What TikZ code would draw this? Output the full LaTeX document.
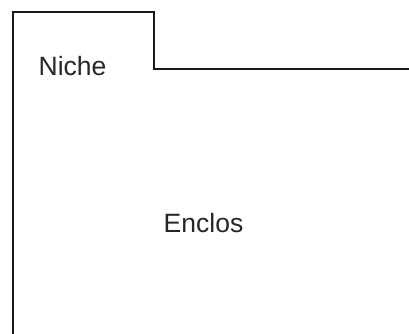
\documentclass[tikz,border=0pt]{standalone}
\usepackage{fontspec}
\setmainfont{Liberation Sans}
\begin{document}
\begin{tikzpicture}[x=1pt,y=-1pt,
  wall/.style={line width=2pt, draw=black!90},
  lbl/.style={font=\fontsize{26.5}{30}\selectfont, text=black!85, inner sep=0pt, anchor=base}]
\useasboundingbox (0,0) rectangle (409,334);
\draw[wall] (13,340) -- (13,12) -- (153.5,12) -- (153.5,69) -- (412,69);
\node[lbl] (niche) at (72.5,76) {Niche};
\node[lbl] (enclos) at (203.5,232) {Enclos};
\end{tikzpicture}
\end{document}
